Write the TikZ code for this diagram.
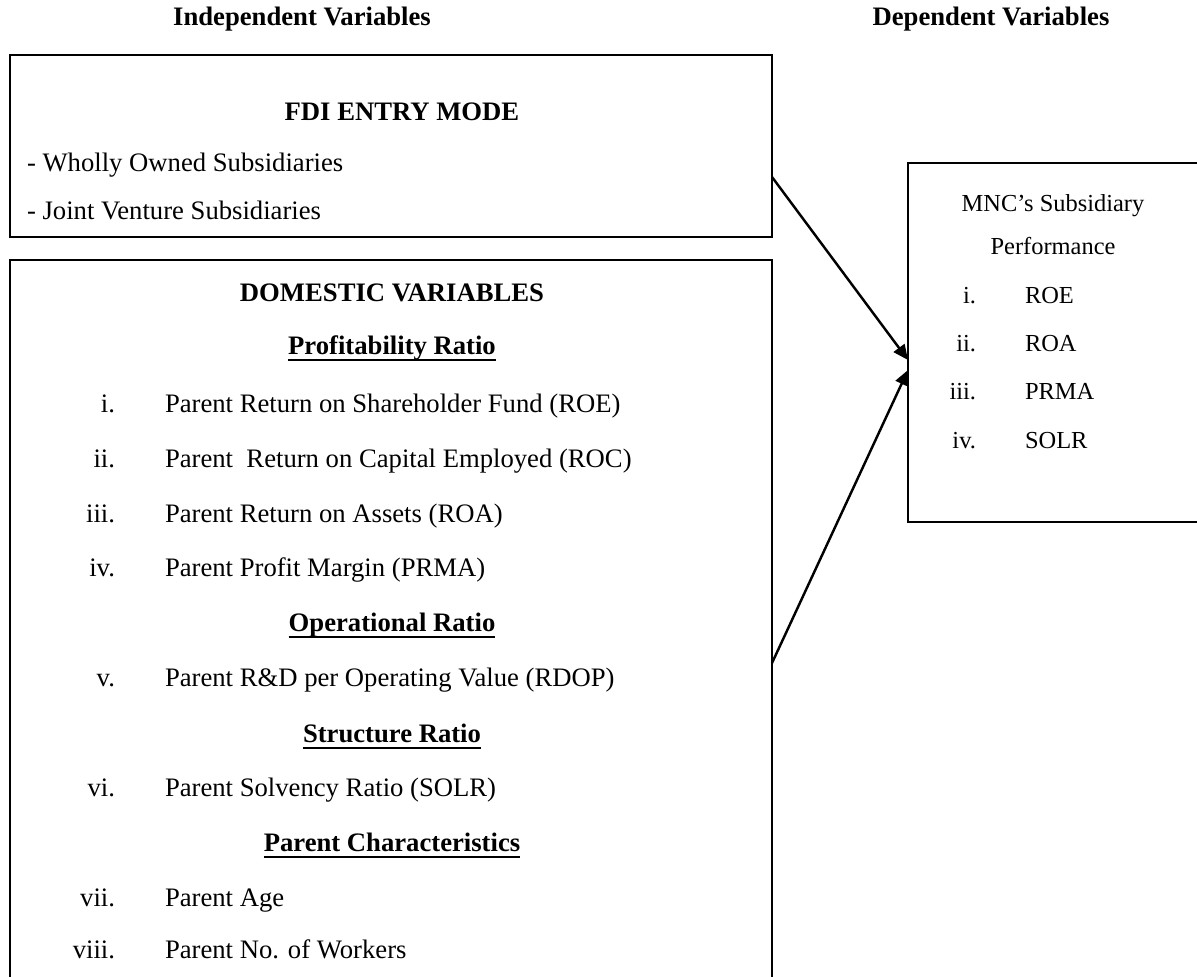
\documentclass[tikz,border=0pt]{standalone}
\usepackage{fontspec}
\setmainfont{Liberation Serif}
\usetikzlibrary{arrows.meta,calc}
\begin{document}
\begin{tikzpicture}[x=0.45pt,y=-0.45pt,
  box/.style={draw=black,line width=0.8pt,rectangle,inner sep=0pt,outer sep=0pt},
  txt/.style={inner sep=0pt,outer sep=0pt,text height=8.5pt,text depth=2.6pt,font=\fontsize{12}{14}\selectfont},
  stxt/.style={inner sep=0pt,outer sep=0pt,text height=7.8pt,text depth=2.4pt,font=\fontsize{11}{13}\selectfont},
  head/.style={txt,font=\fontsize{12}{14}\selectfont\bfseries},
  num/.style={txt,anchor=east},
  item/.style={txt,anchor=west},
  snum/.style={stxt,anchor=east},
  sitem/.style={stxt,anchor=west},
  uline/.style={line width=1.0pt},
  conn/.style={line width=1.1pt,-{Triangle[length=6.8pt,width=6pt]}}
]
\useasboundingbox (0,0) rectangle (1197,976);

% column titles
\node[head] (indep) at (302,19) {Independent Variables};
\node[head] (depv) at (991,19) {Dependent Variables};

% boxes
\node[box,minimum width=342.9pt,minimum height=81.9pt] (fdi) at (391,146) {};
\node[box,minimum width=342.9pt,minimum height=333pt] (dom) at (391,630) {};
\node[box,minimum width=135.9pt,minimum height=161.55pt] (dep) at (1059,342.5) {};

% FDI box
\node[head] (fdit) at (402,114) {FDI ENTRY MODE};
\node[item] (wos) at (27,165) {- Wholly Owned Subsidiaries};
\node[item] (jvs) at (27,213) {- Joint Venture Subsidiaries};

% Domestic box
\node[head] (domt) at (392,295) {DOMESTIC VARIABLES};
\node[head] (prof) at (392,348) {Profitability Ratio};
\node[num] (n1) at (115,406) {i.};
\node[item] (t1) at (165,406) {Parent Return on Shareholder Fund (ROE)};
\node[num] (n2) at (115,461) {ii.};
\node[item] (t2) at (165,461) {Parent\ \ Return on Capital Employed (ROC)};
\node[num] (n3) at (115,516) {iii.};
\node[item] (t3) at (165,516) {Parent Return on Assets (ROA)};
\node[num] (n4) at (115,570) {iv.};
\node[item] (t4) at (165,570) {Parent Profit Margin (PRMA)};
\node[head] (oper) at (392,625) {Operational Ratio};
\node[num] (n5) at (115,680) {v.};
\node[item] (t5) at (165,680) {Parent R\&D per Operating Value (RDOP)};
\node[head] (struc) at (392,736) {Structure Ratio};
\node[num] (n6) at (115,790) {vi.};
\node[item] (t6) at (165,790) {Parent Solvency Ratio (SOLR)};
\node[head] (pchar) at (392,845) {Parent Characteristics};
\node[num] (n7) at (115,900) {vii.};
\node[item] (t7) at (165,900) {Parent Age};
\node[num] (n8) at (115,952) {viii.};
\node[item] (t8) at (165,952) {Parent No. of Workers};

% underlines of the headings
\foreach \h in {prof,oper,struc,pchar}
  \draw[uline] ([yshift=-2.6pt]\h.base west) -- ([yshift=-2.6pt]\h.base east);

% Dependent box
\node[stxt] (mnc) at (1053,205) {MNC’s Subsidiary};
\node[stxt] (perf) at (1053,248) {Performance};
\node[snum] (d1) at (976,297) {i.};
\node[sitem] (e1) at (1025,297) {ROE};
\node[snum] (d2) at (976,345) {ii.};
\node[sitem] (e2) at (1025,345) {ROA};
\node[snum] (d3) at (976,393) {iii.};
\node[sitem] (e3) at (1025,393) {PRMA};
\node[snum] (d4) at (976,442) {iv.};
\node[sitem] (e4) at (1025,442) {SOLR};

% connectors
\coordinate (s1) at ($(fdi.north east)+(0,122)$);
\coordinate (s2) at ($(dom.north east)+(0,403)$);
\coordinate (e1p) at ($(dep.north west)+(0,197)$);
\coordinate (e2p) at ($(dep.north west)+(0,207)$);
\draw[conn] (s1) -- (e1p);
\draw[conn] (s2) -- (e2p);
\end{tikzpicture}
\end{document}
